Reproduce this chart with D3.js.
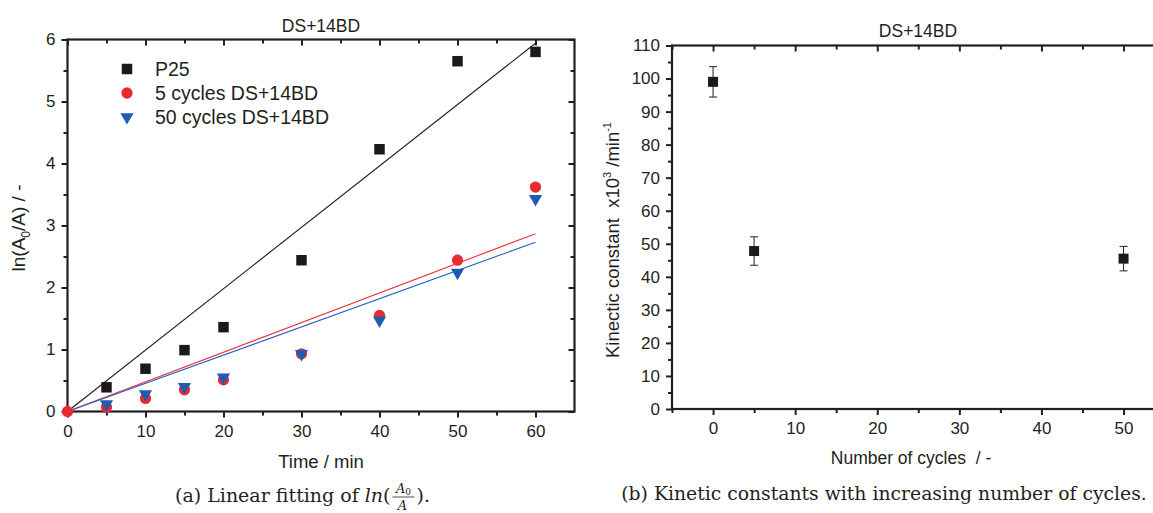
<!DOCTYPE html>
<html>
<head>
<meta charset="utf-8">
<script src="https://cdn.jsdelivr.net/npm/d3@7"></script>
<style>
  html, body { margin: 0; padding: 0; background: #fff; }
  svg { display: block; }
  .ax text { font-family: "Liberation Sans", Arial, sans-serif; font-size: 17px; fill: #231f20; }
  .ax path { display: none; }
  .ax line { stroke: #231f20; stroke-width: 2; }
</style>
</head>
<body>
<svg id="fig" width="1153" height="513"></svg>
<script>
// ---- panel (a): ln(A0/A) vs time ----
const times = [0, 5, 10, 15, 20, 30, 40, 50, 60];
const seriesNames = ["P25", "5 cycles DS+14BD", "50 cycles DS+14BD"];
const p25Values = [null, 0.39, 0.69, 0.99, 1.36, 2.44, 4.23, 5.65, 5.80];
const cyc5Values = [0, 0.07, 0.21, 0.35, 0.51, 0.93, 1.55, 2.44, 3.62];
const cyc50Values = [null, 0.12, 0.28, 0.40, 0.55, 0.93, 1.47, 2.24, 3.43];
const timeTicks = [0, 10, 20, 30, 40, 50, 60];
const lnTicks = [0, 1, 2, 3, 4, 5, 6];

// ---- panel (b): kinetic constants vs cycles ----
const cycles = [0, 5, 50];
const kineticK = [99.0, 47.8, 45.5];      // x10^3 min^-1 (also slope of the fits in (a))
const kineticErr = [4.6, 4.3, 3.7];
const cycleTicks = [0, 10, 20, 30, 40, 50];
const kTicks = [0, 10, 20, 30, 40, 50, 60, 70, 80, 90, 100, 110];

const ink = "#231f20";
const colors = ["#1a1a1a", "#ea2a2f", "#1f5bb0"];
const lineColors = ["#1a1a1a", "#ee2e33", "#2260bd"];

const svg = d3.select("#fig");
const sans = '"Liberation Sans", Arial, sans-serif';
const serif = '"DejaVu Serif", "Liberation Serif", serif';

function frameAxes(g, x, y, xMaj, xMin, yMaj, yMin, xr, yr) {
  const [x0, x1] = xr, [y0, y1] = yr;
  // bottom (outward)
  g.append("g").attr("class", "ax").attr("transform", `translate(0,${y0})`)
    .call(d3.axisBottom(x).tickValues(xMaj).tickSize(6).tickPadding(7).tickFormat(d3.format("d")));
  g.append("g").attr("class", "ax").attr("transform", `translate(0,${y0})`)
    .call(d3.axisBottom(x).tickValues(xMin).tickSize(4).tickFormat(""));
  // top (inward)
  g.append("g").attr("class", "ax").attr("transform", `translate(0,${y1})`)
    .call(d3.axisTop(x).tickValues(xMaj).tickSize(-6).tickFormat(""));
  g.append("g").attr("class", "ax").attr("transform", `translate(0,${y1})`)
    .call(d3.axisTop(x).tickValues(xMin).tickSize(-4).tickFormat(""));
  // left (outward)
  g.append("g").attr("class", "ax").attr("transform", `translate(${x0},0)`)
    .call(d3.axisLeft(y).tickValues(yMaj).tickSize(6).tickPadding(6).tickFormat(d3.format("d")));
  g.append("g").attr("class", "ax").attr("transform", `translate(${x0},0)`)
    .call(d3.axisLeft(y).tickValues(yMin).tickSize(4).tickFormat(""));
  // right (inward)
  g.append("g").attr("class", "ax").attr("transform", `translate(${x1},0)`)
    .call(d3.axisRight(y).tickValues(yMaj).tickSize(-6).tickFormat(""));
  g.append("g").attr("class", "ax").attr("transform", `translate(${x1},0)`)
    .call(d3.axisRight(y).tickValues(yMin).tickSize(-4).tickFormat(""));
  // frame
  g.append("rect").attr("x", x0).attr("y", y1).attr("width", x1 - x0).attr("height", y0 - y1)
    .attr("fill", "none").attr("stroke", ink).attr("stroke-width", 2.2);
}

// ================= panel (a) =================
const xa = d3.scaleLinear().domain([0, 65]).range([67.5, 574.5]);
const ya = d3.scaleLinear().domain([0, 6]).range([411.5, 39.5]);
const ga = svg.append("g");

frameAxes(ga, xa, ya, timeTicks, d3.range(5, 65, 10), lnTicks, d3.range(0.5, 6, 1),
  xa.range(), ya.range());

// fitted lines through the origin, slope = k
const fitSlopes = kineticK.map(k => k / 1000);
fitSlopes.forEach((s, i) => {
  ga.append("line")
    .attr("x1", xa(0)).attr("y1", ya(0))
    .attr("x2", xa(60)).attr("y2", ya(s * 60))
    .attr("stroke", lineColors[i]).attr("stroke-width", 1.1);
});

const allSeries = [p25Values, cyc5Values, cyc50Values];
const sym = [d3.symbolSquare, d3.symbolCircle, d3.symbolTriangle];
const symSize = [110, 100, 75];
allSeries.forEach((vals, i) => {
  const pts = times.map((t, j) => ({ t, v: vals[j] })).filter(d => d.v !== null);
  ga.append("g").selectAll("path").data(pts).join("path")
    .attr("d", d3.symbol(sym[i], symSize[i]))
    .attr("transform", d => `translate(${xa(d.t)},${ya(d.v)})` + (i === 2 ? " rotate(180)" : ""))
    .attr("fill", colors[i]);
});

// legend
const lg = ga.append("g");
seriesNames.forEach((name, i) => {
  const yy = 69 + i * 24;
  lg.append("path").attr("d", d3.symbol(sym[i], symSize[i]))
    .attr("transform", `translate(127,${yy})` + (i === 2 ? " rotate(180)" : ""))
    .attr("fill", colors[i]);
  lg.append("text").attr("x", 155).attr("y", yy + 7).text(name)
    .attr("font-family", sans).attr("font-size", 19.5).attr("fill", ink);
});

// titles
ga.append("text").attr("x", 321).attr("y", 32).attr("text-anchor", "middle")
  .attr("font-family", sans).attr("font-size", 17.5).attr("fill", ink).text("DS+14BD");
ga.append("text").attr("x", 321).attr("y", 468).attr("text-anchor", "middle")
  .attr("font-family", sans).attr("font-size", 18.5).attr("fill", ink).text("Time / min");
const yla = ga.append("text").attr("transform", "translate(25,228) rotate(-90)")
  .attr("text-anchor", "middle").attr("font-family", sans).attr("font-size", 19).attr("fill", ink);
yla.append("tspan").text("ln(A");
yla.append("tspan").attr("font-size", 12).attr("dy", 5).text("0");
yla.append("tspan").attr("dy", -5).text("/A) / -");

// caption (a), laid out piece by piece
const capA = svg.append("g").attr("font-family", serif).attr("fill", ink);
let cx = 175;
const capBase = 502;
function piece(txt, opts) {
  const t = capA.append("text").attr("x", cx).attr("y", capBase).attr("font-size", 19)
    .attr("xml:space", "preserve").style("white-space", "pre").text(txt);
  if (opts && opts.italic) t.attr("font-style", "italic");
  cx += t.node().getComputedTextLength();
  return t;
}
piece("(a) Linear fitting of");
cx += 6;
piece("ln", { italic: true });
piece("(");
cx += 2;
const fracW = 22, fx = cx + fracW / 2;
const num = capA.append("text").attr("x", fx).attr("y", capBase - 9).attr("font-size", 13)
  .attr("text-anchor", "middle").attr("font-style", "italic");
num.append("tspan").text("A");
num.append("tspan").attr("font-size", 9).attr("font-style", "normal").attr("dy", 2).text("0");
capA.append("line").attr("x1", cx).attr("x2", cx + fracW).attr("y1", capBase - 5).attr("y2", capBase - 5)
  .attr("stroke", ink).attr("stroke-width", 0.8);
capA.append("text").attr("x", fx - 1).attr("y", capBase + 8).attr("font-size", 13)
  .attr("text-anchor", "middle").attr("font-style", "italic").text("A");
cx += fracW + 2;
piece(").");

// ================= panel (b) =================
const xb = d3.scaleLinear().domain([-5, 55]).range([672, 1164.6]);
const yb = d3.scaleLinear().domain([0, 110]).range([409, 45.5]);
const gb = svg.append("g");

frameAxes(gb, xb, yb, cycleTicks, d3.range(-5, 60, 10), kTicks, d3.range(5, 110, 10),
  xb.range(), yb.range());

const kd = cycles.map((c, i) => ({ c, k: kineticK[i], e: kineticErr[i] }));
const eb = gb.append("g").attr("stroke", ink).attr("stroke-width", 1);
kd.forEach(d => {
  const px = xb(d.c);
  eb.append("line").attr("x1", px).attr("x2", px).attr("y1", yb(d.k + d.e)).attr("y2", yb(d.k - d.e));
  [d.k + d.e, d.k - d.e].forEach(v => {
    eb.append("line").attr("x1", px - 4).attr("x2", px + 4).attr("y1", yb(v)).attr("y2", yb(v));
  });
});
gb.append("g").selectAll("path").data(kd).join("path")
  .attr("d", d3.symbol(d3.symbolSquare, 100))
  .attr("transform", d => `translate(${xb(d.c)},${yb(d.k)})`)
  .attr("fill", "#1a1a1a");

gb.append("text").attr("x", 918).attr("y", 37).attr("text-anchor", "middle")
  .attr("font-family", sans).attr("font-size", 17.5).attr("fill", ink).text("DS+14BD");
gb.append("text").attr("x", 911).attr("y", 464).attr("text-anchor", "middle")
  .attr("font-family", sans).attr("font-size", 17.5).attr("fill", ink)
  .attr("xml:space", "preserve").style("white-space", "pre").text("Number of cycles  / -");
const ylb = gb.append("text").attr("transform", "translate(619,240) rotate(-90)")
  .attr("text-anchor", "middle").attr("font-family", sans).attr("font-size", 18.5).attr("fill", ink)
  .attr("xml:space", "preserve").style("white-space", "pre");
ylb.append("tspan").text("Kinectic constant  x10");
ylb.append("tspan").attr("font-size", 11).attr("dy", -8).text("3");
ylb.append("tspan").attr("dy", 8).text(" /min");
ylb.append("tspan").attr("font-size", 11).attr("dy", -8).text("-1");

svg.append("text").attr("x", 884).attr("y", 500).attr("text-anchor", "middle")
  .attr("font-family", serif).attr("font-size", 18.8).attr("fill", ink)
  .text("(b) Kinetic constants with increasing number of cycles.");
</script>
</body>
</html>
